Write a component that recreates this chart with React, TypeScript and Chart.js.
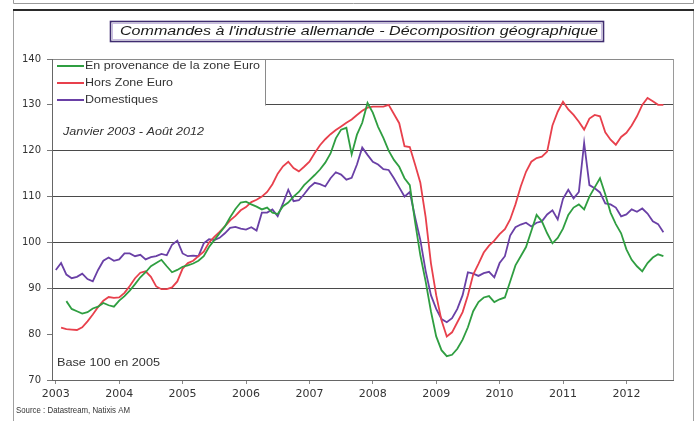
import React, { useEffect, useRef } from 'react';
import { Chart, registerables } from 'chart.js';

Chart.register(...registerables);

// Monthly data, January 2003 to August 2012 (index 100 = 2005)
const START_YEAR = 2003;
const YEAR_TICKS = [2003, 2004, 2005, 2006, 2007, 2008, 2009, 2010, 2011, 2012];
const Y_TICKS = [70, 80, 90, 100, 110, 120, 130, 140];

const SERIES_LABELS = ['En provenance de la zone Euro', 'Hors Zone Euro', 'Domestiques'];

const ZONE_EURO: (number | null)[] = [
  null, null, 87.2, 85.5, 85.0, 84.5, 84.8, 85.6, 86.0, 86.8, 86.3, 86.0,
  87.3, 88.3, 89.5, 90.9, 92.4, 93.5, 94.8, 95.5, 96.2, 94.8, 93.5, 94.0,
  94.7, 95.0, 95.4, 96.0, 97.0, 99.0, 100.5, 102.0, 103.5, 105.5, 107.3, 108.7,
  108.9, 108.3, 107.8, 107.2, 107.6, 106.5, 106.2, 107.9, 108.7, 110.0, 111.0, 112.5,
  113.6, 114.7, 115.9, 117.4, 119.4, 122.7, 124.6, 125.0, 119.2, 123.5, 126.1, 130.4,
  128.3, 125.2, 122.8, 120.0, 118.0, 116.5, 114.0, 112.5, 104.5, 97.2, 91.5, 85.0,
  79.5, 76.5, 75.2, 75.5, 76.8, 78.8, 81.5, 85.0, 87.0, 88.0, 88.3, 87.0,
  87.6, 88.0, 91.5, 95.0, 97.0, 99.0, 102.5, 106.0, 104.6, 102.0, 99.8, 101.0,
  103.0, 106.0, 107.6, 108.3, 107.2, 110.0, 112.0, 114.0, 110.5, 106.5, 104.0, 102.0,
  98.5, 96.2, 94.8, 93.7, 95.5, 96.7, 97.4, 97.0,
];

const HORS_ZONE: (number | null)[] = [
  null, 81.4, 81.1, 81.0, 80.9, 81.5, 82.8, 84.3, 85.9, 87.3, 88.1, 87.9,
  88.0, 89.0, 90.5, 92.2, 93.4, 93.7, 92.5, 90.4, 89.8, 89.8, 90.2, 91.5,
  94.3, 95.5, 96.0, 97.0, 98.0, 100.0, 101.2, 102.3, 103.5, 104.8, 105.8, 107.0,
  107.7, 108.8, 109.3, 110.0, 111.0, 112.7, 115.0, 116.6, 117.6, 116.2, 115.5, 116.5,
  117.6, 119.5, 121.2, 122.5, 123.6, 124.5, 125.3, 126.1, 126.8, 127.8, 128.7, 129.4,
  129.6, 129.6, 129.6, 130.0, 128.0, 126.0, 121.0, 120.8, 117.0, 113.0, 105.5, 95.5,
  88.5, 83.0, 79.5, 80.4, 82.6, 84.8, 88.5, 93.0, 95.3, 97.8, 99.3, 100.4,
  101.8, 102.9, 105.0, 108.3, 112.2, 115.4, 117.6, 118.4, 118.7, 119.8, 125.5, 128.5,
  130.7, 129.0, 127.8, 126.3, 124.6, 127.0, 127.8, 127.5, 124.0, 122.4, 121.3, 123.0,
  123.9, 125.5, 127.5, 130.0, 131.5, 130.8, 130.0, 130.0,
];

const DOMESTIQUES: (number | null)[] = [
  94.0, 95.5, 93.0, 92.2, 92.5, 93.2, 92.0, 91.5, 94.0, 96.0, 96.7, 96.0,
  96.3, 97.6, 97.6, 97.0, 97.3, 96.3, 96.8, 97.0, 97.5, 97.2, 99.5, 100.4,
  97.6, 97.0, 97.1, 97.0, 99.8, 100.7, 100.5, 101.0, 102.0, 103.2, 103.4, 103.0,
  102.8, 103.3, 102.6, 106.5, 106.5, 107.2, 105.7, 108.5, 111.5, 109.0, 109.2, 110.5,
  112.0, 113.0, 112.7, 112.2, 114.0, 115.3, 114.8, 113.7, 114.1, 117.0, 120.7, 119.1,
  117.6, 117.0, 116.0, 115.8, 114.0, 112.0, 110.0, 111.0, 105.5, 100.5, 93.8, 88.5,
  85.5, 83.3, 82.6, 83.5, 85.5, 88.5, 93.5, 93.2, 92.7, 93.3, 93.6, 92.4,
  95.5, 97.0, 101.5, 103.3, 103.9, 104.3, 103.5, 104.3, 104.6, 106.1, 107.0, 105.0,
  109.5, 111.5, 109.6, 111.0, 121.7, 112.5, 111.8, 110.9, 108.5, 108.3, 107.6, 105.7,
  106.1, 107.2, 106.7, 107.4, 106.3, 104.6, 104.0, 102.2,
];

const COLORS = ['#2f9e41', '#e8404c', '#6a40a6'];

const TITLE = "Commandes à l'industrie allemande - Décomposition géographique";
const PERIOD_NOTE = 'Janvier 2003 - Août 2012';
const BASE_NOTE = 'Base 100 en 2005';
const SOURCE_NOTE = 'Source : Datastream, Natixis AM';

const toPoints = (arr: (number | null)[]) =>
  arr
    .map((v, i) => ({ x: START_YEAR + i / 12, y: v }))
    .filter((p) => p.y !== null) as { x: number; y: number }[];

function fitText(
  ctx: CanvasRenderingContext2D,
  text: string,
  x: number,
  y: number,
  width: number,
  font: string,
  color: string,
  align: 'left' | 'center' = 'left'
) {
  ctx.save();
  ctx.font = font;
  ctx.fillStyle = color;
  ctx.textBaseline = 'middle';
  ctx.textAlign = 'left';
  const w = ctx.measureText(text).width;
  const sx = width / w;
  ctx.translate(x, y);
  ctx.scale(sx, 1);
  ctx.fillText(text, align === 'center' ? -w / 2 : 0, 0);
  ctx.restore();
}

const decorPlugin = {
  id: 'decor',
  beforeDraw(chart: any) {
    const ctx: CanvasRenderingContext2D = chart.ctx;
    const W = chart.width;
    const H = chart.height;
    ctx.save();
    ctx.fillStyle = '#ffffff';
    ctx.fillRect(0, 0, W, H);
    // upper strip (previous frame)
    ctx.strokeStyle = '#9a9a9a';
    ctx.lineWidth = 1;
    ctx.beginPath();
    ctx.moveTo(13.5, 0);
    ctx.lineTo(13.5, 3.5);
    ctx.lineTo(693.5, 3.5);
    ctx.lineTo(693.5, 0);
    ctx.stroke();
    // chart frame
    ctx.strokeStyle = '#a0a0a0';
    ctx.beginPath();
    ctx.moveTo(13.5, 10);
    ctx.lineTo(13.5, H);
    ctx.moveTo(693.5, 10);
    ctx.lineTo(693.5, H);
    ctx.stroke();
    ctx.strokeStyle = '#2a2a2a';
    ctx.lineWidth = 2;
    ctx.beginPath();
    ctx.moveTo(13, 10);
    ctx.lineTo(694, 10);
    ctx.stroke();
    // title box
    ctx.strokeStyle = '#c9bde0';
    ctx.lineWidth = 1;
    ctx.strokeRect(112.5, 23.5, 489, 16);
    ctx.strokeStyle = '#3f2c70';
    ctx.lineWidth = 1.6;
    ctx.strokeRect(110.5, 21.5, 493, 20);
    ctx.restore();
    fitText(ctx, TITLE, 359, 31.5, 478, 'italic 12px "Liberation Sans", Arial, sans-serif', '#1a1a1a', 'center');
  },
  afterDatasetsDraw(chart: any) {
    const ctx: CanvasRenderingContext2D = chart.ctx;
    const area = chart.chartArea;
    const yScale = chart.scales.y;
    const y130 = Math.round(yScale.getPixelForValue(130)) + 0.5;
    ctx.save();
    // right border of plot
    ctx.strokeStyle = '#9a9a9a';
    ctx.lineWidth = 1;
    ctx.beginPath();
    ctx.moveTo(Math.round(area.right) + 0.5, area.top);
    ctx.lineTo(Math.round(area.right) + 0.5, area.bottom);
    ctx.stroke();
    // legend box
    ctx.fillStyle = '#ffffff';
    ctx.fillRect(area.left + 1, area.top + 1, 265 - area.left - 1, y130 - area.top + 2);
    ctx.strokeStyle = '#8a8a8a';
    ctx.beginPath();
    ctx.moveTo(265.5, area.top);
    ctx.lineTo(265.5, y130);
    ctx.stroke();
    const legendY = [66, 83, 100];
    const legendW = [175, 88, 73];
    SERIES_LABELS.forEach((label, i) => {
      ctx.strokeStyle = COLORS[i];
      ctx.lineWidth = 2;
      ctx.beginPath();
      ctx.moveTo(57, legendY[i]);
      ctx.lineTo(84, legendY[i]);
      ctx.stroke();
      fitText(ctx, label, 85, legendY[i], legendW[i], '10.5px "Liberation Sans", Arial, sans-serif', '#333333');
    });
    ctx.restore();
    fitText(ctx, PERIOD_NOTE, 63, 132, 141, 'italic 10.5px "Liberation Sans", Arial, sans-serif', '#333333');
    fitText(ctx, BASE_NOTE, 57, 363, 103, '10.5px "Liberation Sans", Arial, sans-serif', '#333333');
    fitText(ctx, SOURCE_NOTE, 16, 411, 114, '9px "Liberation Sans", Arial, sans-serif', '#333333');
  },
};

export default function App() {
  const ref = useRef<HTMLCanvasElement>(null);

  useEffect(() => {
    const canvas = ref.current;
    if (!canvas) return;
    const seriesData = [ZONE_EURO, HORS_ZONE, DOMESTIQUES];
    const chart = new Chart(canvas, {
      type: 'line',
      data: {
        datasets: seriesData.map((arr, i) => ({
          label: SERIES_LABELS[i],
          data: toPoints(arr),
          borderColor: COLORS[i],
          backgroundColor: COLORS[i],
          borderWidth: 1.8,
          pointRadius: 0,
          tension: 0,
          fill: false,
        })),
      },
      options: {
        responsive: false,
        animation: false,
        devicePixelRatio: 1,
        parsing: true,
        layout: { padding: { left: 0, top: 59, right: 23, bottom: 11 } },
        plugins: {
          legend: { display: false },
          tooltip: { enabled: false },
          title: { display: false },
        },
        scales: {
          x: {
            type: 'linear',
            min: 2002.94,
            max: 2012.735,
            afterBuildTicks: (s: any) => {
              s.ticks = YEAR_TICKS.map((v) => ({ value: v }));
            },
            afterFit: (s: any) => {
              s.height = 30;
            },
            grid: { drawOnChartArea: false, drawTicks: true, tickLength: 4, tickColor: '#888' },
            border: { color: '#666', width: 1 },
            ticks: {
              font: { family: 'DejaVu Sans', size: 11 },
              color: '#333',
              padding: 4,
              maxRotation: 0,
              autoSkip: false,
              callback: (v: any) => String(v),
            },
          },
          y: {
            type: 'linear',
            min: 70,
            max: 140,
            afterBuildTicks: (s: any) => {
              s.ticks = Y_TICKS.map((v) => ({ value: v }));
            },
            afterFit: (s: any) => {
              s.width = 52;
            },
            grid: {
              color: (c: any) => {
                const v = c.tick ? c.tick.value : null;
                if (v === 140) return '#8a8a8a';
                if (v !== null && v >= 90 && v <= 130) return '#4a4a4a';
                return 'rgba(0,0,0,0)';
              },
              tickColor: '#777',
              tickLength: 5,
              lineWidth: 1,
            },
            border: { color: '#666', width: 1 },
            ticks: {
              font: { family: 'DejaVu Sans', size: 10 },
              color: '#333',
              padding: 6,
              callback: (v: any) => String(v),
            },
          },
        },
      },
      plugins: [decorPlugin],
    } as any);
    return () => chart.destroy();
  }, []);

  return (
    <div style={{ position: 'fixed', left: 0, top: 0, width: 696, height: 421, background: '#fff' }}>
      <canvas ref={ref} width={696} height={421} style={{ display: 'block' }} />
    </div>
  );
}
